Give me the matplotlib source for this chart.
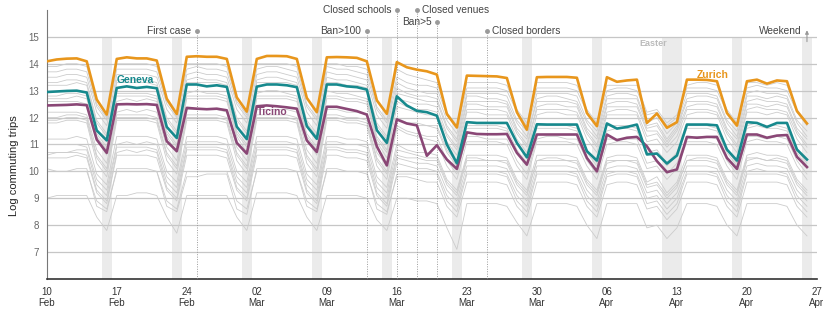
import numpy as np
import pandas as pd
import matplotlib
matplotlib.use("Agg")
import matplotlib.pyplot as plt
import matplotlib.dates as mdates

plt.rcParams['font.family'] = ['Liberation Sans', 'DejaVu Sans']

# daily values, 10 Feb - 26 Apr 2020
dates = pd.date_range("2020-02-10", "2020-04-26", freq="D")

zurich = [
    14.09, 14.16, 14.19, 14.20, 14.09, 12.67, 12.11,
    14.18, 14.24, 14.20, 14.20, 14.12, 12.70, 12.13,
    14.26, 14.28, 14.26, 14.26, 14.18, 12.75, 12.22,
    14.18, 14.29, 14.29, 14.28, 14.18, 12.73, 12.20,
    14.24, 14.25, 14.24, 14.22, 14.09, 12.64, 12.14,
    14.06, 13.87, 13.78, 13.72, 13.60, 12.13, 11.63,
    13.56, 13.55, 13.54, 13.53, 13.47, 12.20, 11.55,
    13.50, 13.51, 13.51, 13.51, 13.48, 12.17, 11.68,
    13.50, 13.33, 13.38, 13.41, 11.80, 12.15, 11.62,
    11.83, 13.41, 13.41, 13.40, 13.35, 12.17, 11.70,
    13.35, 13.41, 13.26, 13.38, 13.35, 12.24, 11.78,
]
geneva = [
    12.95, 12.97, 12.99, 13.00, 12.93, 11.52, 11.15,
    13.10, 13.16, 13.10, 13.14, 13.09, 11.65, 11.24,
    13.23, 13.23, 13.16, 13.20, 13.14, 11.66, 11.20,
    13.15, 13.23, 13.23, 13.20, 13.13, 11.68, 11.21,
    13.23, 13.23, 13.16, 13.13, 13.04, 11.53, 11.06,
    12.79, 12.45, 12.25, 12.20, 12.07, 11.00, 10.30,
    11.83, 11.80, 11.80, 11.80, 11.80, 11.06, 10.52,
    11.75, 11.74, 11.74, 11.74, 11.74, 10.75, 10.40,
    11.78, 11.59, 11.65, 11.74, 10.63, 10.66, 10.29,
    10.59, 11.74, 11.74, 11.74, 11.71, 10.81, 10.40,
    11.83, 11.80, 11.65, 11.80, 11.80, 10.81, 10.44,
]
ticino = [
    12.45, 12.46, 12.47, 12.49, 12.46, 11.18, 10.69,
    12.49, 12.50, 12.49, 12.50, 12.47, 11.12, 10.75,
    12.36, 12.33, 12.31, 12.33, 12.27, 11.06, 10.66,
    12.42, 12.45, 12.42, 12.38, 12.33, 11.15, 10.72,
    12.40, 12.40, 12.32, 12.24, 12.11, 10.93, 10.22,
    11.93, 11.78, 11.71, 10.58, 10.97, 10.44, 10.09,
    11.45, 11.39, 11.38, 11.38, 11.39, 10.69, 10.25,
    11.37, 11.37, 11.37, 11.37, 11.37, 10.50, 10.00,
    11.37, 11.16, 11.25, 11.28, 10.93, 10.38, 9.97,
    10.07, 11.28, 11.25, 11.28, 11.28, 10.50, 10.09,
    11.37, 11.37, 11.25, 11.33, 11.35, 10.54, 10.16,
]

# the other cantons (grey)
other_cantons = [
    [13.9, 13.9, 14.0, 14.0, 13.9, 12.5, 12.0, 14.0, 14.0, 14.0, 14.0, 13.9, 12.6, 12.1,
     14.0, 14.0, 14.0, 14.0, 13.9, 12.6, 12.1, 14.0, 14.0, 14.0, 14.0, 13.9, 12.5, 12.0,
     14.0, 14.0, 13.9, 13.9, 13.8, 12.4, 11.9, 13.8, 13.6, 13.5, 13.4, 13.3, 12.2, 11.7,
     13.3, 13.3, 13.3, 13.3, 13.2, 12.3, 11.8, 13.3, 13.3, 13.3, 13.3, 13.2, 12.3, 11.8,
     13.2, 13.2, 13.2, 13.2, 12.2, 12.3, 11.8, 12.1, 13.2, 13.3, 13.3, 13.2, 12.3, 11.8,
     13.3, 13.3, 13.2, 13.3, 13.2, 12.3, 11.8],
    [13.7, 13.7, 13.8, 13.8, 13.7, 12.4, 11.9, 13.8, 13.8, 13.8, 13.8, 13.7, 12.5, 12.0,
     13.8, 13.9, 13.8, 13.8, 13.7, 12.5, 12.0, 13.8, 13.9, 13.9, 13.8, 13.7, 12.4, 11.9,
     13.9, 13.8, 13.8, 13.7, 13.6, 12.3, 11.8, 13.5, 13.3, 13.2, 13.2, 13.1, 12.1, 11.6,
     13.1, 13.1, 13.1, 13.1, 13.0, 12.2, 11.7, 13.1, 13.1, 13.1, 13.1, 13.0, 12.2, 11.7,
     13.0, 13.1, 13.1, 13.0, 12.1, 12.2, 11.7, 12.0, 13.1, 13.1, 13.1, 13.0, 12.2, 11.7,
     13.1, 13.2, 13.1, 13.1, 13.0, 12.2, 11.7],
    [13.5, 13.5, 13.6, 13.6, 13.5, 12.2, 11.7, 13.6, 13.6, 13.6, 13.6, 13.5, 12.3, 11.8,
     13.6, 13.7, 13.6, 13.6, 13.5, 12.3, 11.8, 13.6, 13.7, 13.7, 13.6, 13.5, 12.2, 11.7,
     13.7, 13.6, 13.6, 13.5, 13.4, 12.1, 11.6, 13.3, 13.1, 13.0, 12.9, 12.9, 11.9, 11.4,
     12.9, 12.9, 12.9, 12.9, 12.8, 11.9, 11.5, 12.9, 12.9, 12.9, 12.9, 12.8, 11.9, 11.5,
     12.8, 12.9, 12.9, 12.8, 11.8, 12.0, 11.4, 11.8, 12.9, 12.9, 12.9, 12.8, 11.9, 11.5,
     12.9, 13.0, 12.9, 12.9, 12.8, 11.9, 11.5],
    [13.3, 13.3, 13.4, 13.4, 13.3, 11.9, 11.4, 13.4, 13.4, 13.4, 13.4, 13.3, 12.0, 11.5,
     13.4, 13.5, 13.4, 13.4, 13.3, 12.0, 11.5, 13.4, 13.5, 13.5, 13.4, 13.3, 11.9, 11.4,
     13.5, 13.4, 13.4, 13.3, 13.2, 11.8, 11.3, 13.1, 12.9, 12.8, 12.8, 12.7, 11.7, 11.2,
     12.8, 12.8, 12.7, 12.7, 12.6, 11.8, 11.3, 12.7, 12.8, 12.8, 12.7, 12.6, 11.8, 11.3,
     12.7, 12.7, 12.7, 12.7, 11.7, 11.8, 11.2, 11.7, 12.7, 12.8, 12.8, 12.7, 11.8, 11.3,
     12.8, 12.8, 12.7, 12.8, 12.7, 11.8, 11.3],
    [13.2, 13.2, 13.2, 13.3, 13.2, 11.8, 11.3, 13.3, 13.3, 13.3, 13.3, 13.2, 11.9, 11.4,
     13.3, 13.3, 13.3, 13.3, 13.2, 11.9, 11.4, 13.3, 13.3, 13.3, 13.3, 13.2, 11.8, 11.3,
     13.3, 13.3, 13.2, 13.2, 13.1, 11.7, 11.2, 12.9, 12.8, 12.7, 12.6, 12.6, 11.6, 11.1,
     12.6, 12.6, 12.6, 12.6, 12.5, 11.6, 11.2, 12.6, 12.6, 12.6, 12.6, 12.5, 11.6, 11.2,
     12.5, 12.6, 12.6, 12.5, 11.6, 11.7, 11.1, 11.6, 12.6, 12.6, 12.6, 12.5, 11.6, 11.2,
     12.6, 12.7, 12.6, 12.6, 12.5, 11.6, 11.2],
    [12.8, 12.8, 12.9, 12.9, 12.8, 11.4, 10.9, 12.9, 12.9, 12.9, 12.9, 12.8, 11.5, 11.0,
     12.9, 13.0, 12.9, 12.9, 12.8, 11.5, 11.0, 12.9, 13.0, 13.0, 12.9, 12.8, 11.4, 10.9,
     13.0, 12.9, 12.9, 12.8, 12.7, 11.3, 10.8, 12.7, 12.6, 12.5, 12.5, 12.4, 11.4, 10.9,
     12.5, 12.5, 12.4, 12.4, 12.4, 11.5, 11.0, 12.4, 12.5, 12.5, 12.4, 12.4, 11.5, 11.0,
     12.4, 12.4, 12.4, 12.4, 11.5, 11.5, 11.0, 11.5, 12.4, 12.5, 12.5, 12.4, 11.5, 11.0,
     12.5, 12.5, 12.4, 12.5, 12.4, 11.5, 11.0],
    [12.7, 12.7, 12.7, 12.8, 12.7, 11.3, 10.8, 12.8, 12.8, 12.8, 12.8, 12.7, 11.4, 10.9,
     12.8, 12.8, 12.8, 12.8, 12.7, 11.4, 10.9, 12.8, 12.8, 12.8, 12.8, 12.7, 11.3, 10.8,
     12.8, 12.8, 12.7, 12.7, 12.6, 11.2, 10.7, 12.6, 12.4, 12.3, 12.3, 12.2, 11.3, 10.8,
     12.3, 12.3, 12.3, 12.3, 12.2, 11.4, 10.9, 12.3, 12.3, 12.3, 12.3, 12.2, 11.4, 10.9,
     12.2, 12.3, 12.3, 12.2, 11.3, 11.4, 10.9, 11.3, 12.3, 12.3, 12.3, 12.2, 11.4, 10.9,
     12.3, 12.4, 12.3, 12.3, 12.2, 11.4, 10.9],
    [12.6, 12.6, 12.6, 12.6, 12.5, 11.2, 10.6, 12.6, 12.7, 12.6, 12.7, 12.6, 11.3, 10.7,
     12.7, 12.7, 12.7, 12.7, 12.6, 11.3, 10.7, 12.7, 12.7, 12.7, 12.7, 12.6, 11.2, 10.6,
     12.7, 12.7, 12.6, 12.6, 12.5, 11.1, 10.5, 12.4, 12.3, 12.2, 12.1, 12.1, 11.1, 10.6,
     12.2, 12.2, 12.1, 12.1, 12.1, 11.2, 10.7, 12.1, 12.2, 12.2, 12.1, 12.1, 11.2, 10.7,
     12.1, 12.1, 12.1, 12.1, 11.1, 11.2, 10.7, 11.1, 12.1, 12.2, 12.2, 12.1, 11.2, 10.7,
     12.2, 12.2, 12.1, 12.2, 12.1, 11.2, 10.7],
    [12.2, 12.2, 12.2, 12.2, 12.1, 10.8, 10.3, 12.2, 12.3, 12.2, 12.3, 12.2, 10.9, 10.4,
     12.3, 12.3, 12.3, 12.3, 12.2, 10.9, 10.4, 12.3, 12.3, 12.3, 12.3, 12.2, 10.8, 10.3,
     12.3, 12.3, 12.2, 12.2, 12.1, 10.7, 10.2, 12.0, 11.8, 11.7, 11.7, 11.6, 10.7, 10.2,
     11.6, 11.6, 11.6, 11.6, 11.5, 10.7, 10.2, 11.6, 11.6, 11.6, 11.6, 11.5, 10.7, 10.2,
     11.5, 11.6, 11.6, 11.5, 10.6, 10.7, 10.2, 10.6, 11.6, 11.6, 11.6, 11.5, 10.7, 10.2,
     11.6, 11.7, 11.6, 11.6, 11.5, 10.7, 10.2],
    [12.0, 12.0, 12.1, 12.1, 12.0, 10.6, 10.1, 12.1, 12.1, 12.1, 12.1, 12.0, 10.7, 10.2,
     12.1, 12.1, 12.1, 12.1, 12.0, 10.7, 10.2, 12.1, 12.1, 12.1, 12.1, 12.0, 10.6, 10.1,
     12.1, 12.1, 12.0, 12.0, 11.9, 10.5, 10.0, 11.9, 11.8, 11.8, 11.7, 11.7, 10.8, 10.3,
     11.7, 11.7, 11.7, 11.7, 11.6, 10.8, 10.3, 11.7, 11.7, 11.7, 11.7, 11.6, 10.8, 10.3,
     11.7, 11.7, 11.7, 11.6, 10.7, 10.8, 10.3, 10.7, 11.7, 11.7, 11.7, 11.6, 10.8, 10.3,
     11.7, 11.8, 11.7, 11.7, 11.6, 10.8, 10.3],
    [11.9, 11.9, 12.0, 12.0, 11.9, 10.5, 10.0, 12.0, 12.0, 12.0, 12.0, 11.9, 10.6, 10.1,
     12.0, 12.0, 12.0, 12.0, 11.9, 10.6, 10.1, 12.0, 12.0, 12.0, 12.0, 11.9, 10.5, 10.0,
     12.0, 12.0, 11.9, 11.9, 11.8, 10.4, 9.9, 11.7, 11.5, 11.4, 11.3, 11.3, 10.4, 9.9,
     11.3, 11.3, 11.2, 11.2, 11.2, 10.4, 9.9, 11.2, 11.3, 11.3, 11.2, 11.2, 10.4, 9.9,
     11.2, 11.2, 11.2, 11.2, 10.3, 10.4, 9.9, 10.3, 11.2, 11.3, 11.3, 11.2, 10.4, 9.9,
     11.3, 11.3, 11.2, 11.3, 11.2, 10.4, 9.9],
    [11.8, 11.8, 11.9, 11.9, 11.8, 10.3, 9.8, 11.9, 11.9, 11.9, 11.9, 11.8, 10.4, 9.9,
     11.9, 11.9, 11.9, 11.9, 11.8, 10.4, 9.9, 11.9, 11.9, 11.9, 11.9, 11.8, 10.3, 9.8,
     11.9, 11.9, 11.8, 11.8, 11.7, 10.2, 9.7, 11.6, 11.4, 11.3, 11.2, 11.1, 10.2, 9.7,
     11.1, 11.1, 11.1, 11.1, 11.0, 10.2, 9.7, 11.1, 11.1, 11.1, 11.1, 11.0, 10.2, 9.7,
     11.0, 11.1, 11.1, 11.0, 10.1, 10.2, 9.7, 10.1, 11.1, 11.1, 11.1, 11.0, 10.2, 9.7,
     11.1, 11.2, 11.1, 11.1, 11.0, 10.2, 9.7],
    [11.2, 11.2, 11.2, 11.3, 11.2, 9.9, 9.5, 11.3, 11.3, 11.3, 11.3, 11.2, 10.0, 9.6,
     11.3, 11.3, 11.3, 11.3, 11.2, 10.0, 9.6, 11.3, 11.3, 11.3, 11.3, 11.2, 9.9, 9.5,
     11.3, 11.3, 11.2, 11.2, 11.1, 9.8, 9.4, 11.0, 10.8, 10.7, 10.7, 10.6, 9.7, 9.3,
     10.6, 10.6, 10.6, 10.6, 10.5, 9.7, 9.3, 10.6, 10.6, 10.6, 10.6, 10.5, 9.7, 9.3,
     10.5, 10.6, 10.6, 10.5, 9.6, 9.8, 9.2, 9.6, 10.6, 10.6, 10.6, 10.5, 9.7, 9.3,
     10.6, 10.7, 10.6, 10.6, 10.5, 9.7, 9.3],
    [11.0, 11.0, 11.0, 11.0, 10.9, 9.7, 9.3, 11.0, 11.1, 11.0, 11.1, 11.0, 9.8, 9.4,
     11.1, 11.1, 11.1, 11.1, 11.0, 9.8, 9.4, 11.1, 11.1, 11.1, 11.1, 11.0, 9.7, 9.3,
     11.1, 11.1, 11.0, 11.0, 10.9, 9.6, 9.2, 10.8, 10.7, 10.6, 10.5, 10.5, 9.6, 9.2,
     10.5, 10.5, 10.4, 10.4, 10.4, 9.6, 9.2, 10.4, 10.5, 10.5, 10.4, 10.4, 9.6, 9.2,
     10.4, 10.4, 10.4, 10.4, 9.5, 9.6, 9.1, 9.5, 10.4, 10.5, 10.5, 10.4, 9.6, 9.2,
     10.5, 10.5, 10.4, 10.5, 10.4, 9.6, 9.2],
    [10.6, 10.7, 10.7, 10.8, 10.8, 9.5, 9.1, 10.9, 10.9, 10.9, 10.9, 10.8, 9.6, 9.2,
     10.9, 10.9, 10.9, 10.9, 10.8, 9.6, 9.2, 10.9, 10.9, 10.9, 10.9, 10.8, 9.5, 9.1,
     10.9, 10.9, 10.8, 10.8, 10.7, 9.4, 9.0, 10.6, 10.5, 10.5, 10.4, 10.4, 9.5, 9.1,
     10.4, 10.4, 10.4, 10.4, 10.3, 9.5, 9.1, 10.4, 10.4, 10.4, 10.4, 10.3, 9.5, 9.1,
     10.3, 10.4, 10.4, 10.3, 9.4, 9.5, 9.0, 9.4, 10.4, 10.4, 10.4, 10.3, 9.5, 9.1,
     10.4, 10.5, 10.4, 10.4, 10.3, 9.5, 9.1],
    [10.7, 10.7, 10.7, 10.7, 10.6, 9.3, 8.9, 10.7, 10.8, 10.7, 10.8, 10.7, 9.4, 9.0,
     10.8, 10.8, 10.8, 10.8, 10.7, 9.4, 9.0, 10.8, 10.8, 10.8, 10.8, 10.7, 9.3, 8.9,
     10.8, 10.8, 10.7, 10.7, 10.6, 9.2, 8.8, 10.5, 10.4, 10.3, 10.3, 10.2, 9.3, 8.9,
     10.2, 10.2, 10.2, 10.2, 10.1, 9.3, 8.9, 10.2, 10.2, 10.2, 10.2, 10.1, 9.3, 8.9,
     10.1, 10.2, 10.2, 10.1, 9.2, 9.3, 8.8, 9.2, 10.2, 10.2, 10.2, 10.1, 9.3, 8.9,
     10.2, 10.3, 10.2, 10.2, 10.1, 9.3, 8.9],
    [10.5, 10.5, 10.5, 10.6, 10.5, 9.2, 8.8, 10.6, 10.6, 10.6, 10.6, 10.5, 9.3, 8.9,
     10.6, 10.6, 10.6, 10.6, 10.5, 9.3, 8.9, 10.6, 10.6, 10.6, 10.6, 10.5, 9.2, 8.8,
     10.6, 10.6, 10.5, 10.5, 10.4, 9.1, 8.7, 10.3, 10.2, 10.1, 10.1, 10.0, 9.1, 8.7,
     10.0, 10.0, 10.0, 10.0, 9.9, 9.1, 8.7, 10.0, 10.0, 10.0, 10.0, 9.9, 9.1, 8.7,
     9.9, 10.0, 10.0, 9.9, 9.0, 9.1, 8.6, 9.0, 10.0, 10.0, 10.0, 9.9, 9.1, 8.7,
     10.0, 10.1, 10.0, 10.0, 9.9, 9.1, 8.7],
    [10.1, 10.0, 10.0, 10.1, 10.1, 8.7, 8.5, 10.1, 10.1, 10.1, 10.1, 10.0, 8.7, 8.5,
     9.8, 9.8, 9.9, 9.9, 9.9, 8.6, 8.4, 10.1, 10.1, 10.1, 10.1, 10.0, 8.7, 8.5,
     10.1, 10.1, 10.0, 10.0, 10.0, 8.6, 8.4, 9.9, 9.9, 9.9, 9.9, 9.9, 8.9, 8.5,
     9.9, 9.9, 9.9, 9.9, 9.8, 8.9, 8.5, 9.9, 9.9, 9.9, 9.9, 9.8, 8.9, 8.5,
     9.8, 9.9, 9.9, 9.8, 8.8, 8.9, 8.4, 8.8, 9.9, 9.9, 9.9, 9.8, 8.9, 8.5,
     9.9, 9.9, 9.9, 9.9, 9.8, 8.9, 8.5],
    [10.0, 10.0, 10.0, 10.0, 10.0, 8.9, 8.6, 10.0, 10.0, 10.0, 10.0, 10.0, 8.9, 8.6,
     10.0, 10.0, 10.0, 10.0, 10.0, 8.9, 8.6, 10.0, 10.0, 10.0, 10.0, 10.0, 8.9, 8.6,
     10.0, 10.0, 10.0, 10.0, 9.9, 8.8, 8.5, 9.8, 9.8, 9.7, 9.6, 9.6, 8.7, 8.3,
     9.6, 9.6, 9.6, 9.6, 9.5, 8.7, 8.3, 9.6, 9.6, 9.6, 9.6, 9.5, 8.7, 8.3,
     9.5, 9.6, 9.6, 9.5, 8.6, 8.7, 8.2, 8.6, 9.6, 9.6, 9.6, 9.5, 8.7, 8.3,
     9.6, 9.6, 9.6, 9.6, 9.5, 8.7, 8.3],
    [9.0, 9.1, 9.1, 9.1, 9.1, 8.3, 7.8, 9.1, 9.1, 9.2, 9.2, 9.1, 8.3, 7.7,
     9.1, 9.1, 9.1, 9.1, 9.1, 8.3, 7.8, 9.2, 9.2, 9.2, 9.2, 9.1, 8.3, 7.8,
     9.1, 9.1, 9.1, 9.1, 9.0, 8.2, 7.8, 9.0, 9.0, 8.9, 8.9, 8.8, 7.9, 7.1,
     8.8, 8.8, 8.8, 8.8, 8.7, 8.1, 7.6, 8.8, 8.8, 8.8, 8.8, 8.7, 8.0, 7.5,
     8.8, 8.8, 8.8, 8.8, 7.9, 8.0, 7.5, 7.9, 8.8, 8.8, 8.8, 8.7, 8.0, 7.6,
     8.8, 8.8, 8.8, 8.8, 8.7, 8.0, 7.6],
]

events = ["First case", "Ban>100", "Closed schools", "Closed venues", "Ban>5", "Closed borders"]
event_dates = pd.to_datetime(["2020-02-25", "2020-03-13", "2020-03-16",
                              "2020-03-18", "2020-03-20", "2020-03-25"])
event_levels = [15.23, 15.23, 16.0, 16.0, 15.57, 15.23]
event_side = ["left", "left", "left", "right", "left", "right"]

easter_days = pd.to_datetime(["2020-04-12", "2020-04-13"])

c_zurich = "#e8961c"
c_geneva = "#17898d"
c_ticino = "#8a4776"

fig = plt.figure(figsize=(8.3, 3.12), dpi=100)
ax = fig.add_axes([0.0563, 0.106, 0.928, 0.862])

half = pd.Timedelta(hours=12)
sundays = dates[dates.dayofweek == 6]
for s in sundays:
    ax.axvspan(s - half, s + half, ymin=0, ymax=0.9, color="#ebebeb", lw=0, zorder=0)
ax.axvspan(easter_days[0] - half, easter_days[1] + half, ymin=0, ymax=0.9,
           color="#ebebeb", lw=0, zorder=0)

for g in other_cantons:
    ax.plot(dates, g, color="#cccccc", lw=0.6, zorder=2)

# event markers
for lab, d, lev, side in zip(events, event_dates, event_levels, event_side):
    ax.vlines(d, 6, lev, colors="#9a9a9a", linestyles=(0, (1, 1.5)), lw=0.7, zorder=3)
    ax.plot(d, lev, "o", ms=2.5, color="#9a9a9a", clip_on=False, zorder=3)
    off = -4 if side == "left" else 4
    ax.annotate(lab, (d, lev), xytext=(off, 0), textcoords="offset points",
                ha="right" if side == "left" else "left", va="center",
                fontsize=7.3, color="#444444", annotation_clip=False)

ax.plot(dates, ticino, color=c_ticino, lw=1.9, zorder=4)
ax.plot(dates, geneva, color=c_geneva, lw=1.9, zorder=5)
ax.plot(dates, zurich, color=c_zurich, lw=1.9, zorder=6)

ax.text(pd.Timestamp("2020-02-17"), 13.4, "Geneva", color=c_geneva,
        fontsize=7.5, fontweight="bold", va="center", ha="left")
ax.text(pd.Timestamp("2020-03-02"), 12.21, "Ticino", color=c_ticino,
        fontsize=7.5, fontweight="bold", va="center", ha="left")
ax.text(pd.Timestamp("2020-04-15"), 13.6, "Zurich", color=c_zurich,
        fontsize=7.5, fontweight="bold", va="center", ha="left")

ax.text(easter_days[0], 14.75, "Easter", color="#bbbbbb", fontsize=6.5,
        fontweight="bold", ha="right", va="center")

last_sun = sundays[-1]
ax.annotate("", xy=(last_sun, 15.35), xytext=(last_sun, 14.72),
            arrowprops=dict(arrowstyle="-|>", color="#999999", lw=0.8,
                            mutation_scale=5), annotation_clip=False)
ax.annotate("Weekend", (last_sun, 15.23), xytext=(-4, 0), textcoords="offset points",
            ha="right", va="center", fontsize=7.3, color="#444444")

ax.set_xlim(dates[0], pd.Timestamp("2020-04-27"))
ax.set_ylim(6, 16)
ax.set_yticks(range(7, 16))
ax.grid(axis="y", color="#c6c6c6", lw=0.9, zorder=1)
ax.set_axisbelow(True)

ax.xaxis.set_major_locator(mdates.WeekdayLocator(byweekday=mdates.MO))
ax.xaxis.set_major_formatter(mdates.DateFormatter("%d\n%b"))
ax.tick_params(axis="x", length=0, labelsize=7, labelcolor="#333333", pad=6)
ax.tick_params(axis="y", length=0, labelsize=7, labelcolor="#666666", pad=5.5)
for lbl in ax.get_xticklabels():
    lbl.set_linespacing(1.05)

for side in ["top", "right"]:
    ax.spines[side].set_visible(False)
ax.spines["left"].set_color("#777777")
ax.spines["left"].set_linewidth(0.8)
ax.spines["bottom"].set_color("#333333")
ax.spines["bottom"].set_linewidth(1.2)

ax.set_ylabel("Log commuting trips", fontsize=8, color="#222222")
ax.yaxis.set_label_coords(-0.036, 0.42)

fig.savefig("out.png", dpi=100)
